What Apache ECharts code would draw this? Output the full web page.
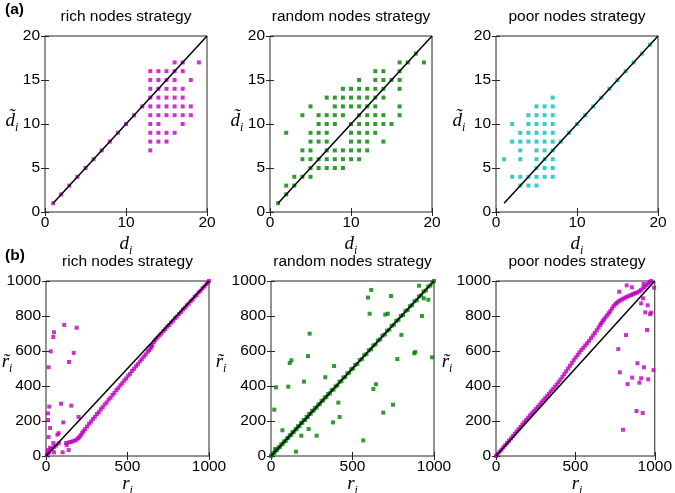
<!DOCTYPE html>
<html><head><meta charset="utf-8">
<script src="https://cdn.jsdelivr.net/npm/echarts@6/dist/echarts.min.js"></script>
<style>html,body{margin:0;padding:0;background:#fff}#c{width:675px;height:493px}</style>
</head><body><div id="c"></div>
<script>
// ---------- data ----------
const panelTitles = ['rich nodes strategy', 'random nodes strategy', 'poor nodes strategy'];
const degXTicks = [0, 10, 20];
const degYTicks = [0, 5, 10, 15, 20];
const rankXTicks = [0, 500, 1000];
const rankYTicks = [0, 200, 400, 600, 800, 1000];

// (a) degree before (d_i) vs after (d~_i)
const richDeg = [
  [1,1],[2,2],[3,3],[4,4],[5,5],[6,6],[7,7],[8,8],[9,9],[10,10],[11,11],[12,12],
  [16,17],[17,17],[19,17],
  [13,16],[14,16],[15,16],[16,16],[17,16],
  [13,15],[14,15],[15,15],[16,15],[18,15],
  [13,14],[14,14],[15,14],[16,14],[17,14],
  [13,13],[14,13],[15,13],[16,13],[17,13],
  [13,12],[14,12],[15,12],[16,12],[17,12],[18,12],
  [13,11],[14,11],[15,11],[16,11],[17,11],[18,11],
  [13,10],[14,10],[17,10],
  [13,9],[14,9],[15,9],[16,9],
  [13,8],[14,8],[15,8],
  [13,7]
];
const randomDeg = [
  [1,1],[2,2],[2,3],[3,3],[3,4],[4,4],[5,4],
  [5,5],[6,5],[7,5],[8,5],[9,5],
  [4,6],[5,6],[6,6],[7,6],[8,6],[9,6],[10,6],[11,6],
  [4,7],[5,7],[7,7],[8,7],[9,7],[10,7],[11,7],[12,7],
  [5,8],[6,8],[7,8],[10,8],[11,8],[12,8],[14,8],
  [2,9],[5,9],[6,9],[7,9],[10,9],[11,9],[12,9],[13,9],
  [6,10],[7,10],[8,10],[10,10],[11,10],[12,10],[13,10],[14,10],[15,10],
  [4,11],[6,11],[7,11],[8,11],[9,11],[11,11],[12,11],[13,11],[14,11],[16,11],
  [5,12],[8,12],[9,12],[10,12],[11,12],[12,12],[13,12],[16,12],
  [7,13],[8,13],[9,13],[10,13],[11,13],[12,13],[13,13],[14,13],
  [9,14],[10,14],[11,14],[12,14],[13,14],[14,14],[16,14],
  [11,15],[13,15],[14,15],[15,15],[16,15],
  [13,16],[14,16],[16,16],
  [16,17],[17,17],[19,17],
  [18,18]
];
const poorDeg = [
  [7,13],
  [5,12],[6,12],[7,12],
  [4,11],[5,11],[6,11],[7,11],
  [2,10],[4,10],[5,10],[6,10],[7,10],
  [3,9],[4,9],[5,9],[6,9],[7,9],
  [2,8],[3,8],[4,8],[5,8],[6,8],[7,8],
  [3,7],[5,7],[6,7],[7,7],
  [1,6],[3,6],[5,6],[6,6],[7,6],
  [5,5],[6,5],[7,5],
  [2,4],[3,4],[4,4],[5,4],[6,4],[7,4],
  [3,3],[4,3],[5,3],
  [8,8],[9,9],[10,10],[11,11],[12,12],[13,13],[14,14],[15,15],[16,16],[17,17],[18,18],[19,19]
];
const degDiagonal = [[1,1],[20,20]];

// (b) rank before (r_i) vs after (r~_i)
const richRank = [
  [5,4],[20,22],[35,38],[50,52],[62,60],[78,72],
  [112,749],[188,733],[49,707],[45,680],[29,598],[170,589],[141,537],[16,507],
  [20,282],[92,299],[155,288],[12,244],[12,206],[200,223],[106,192],[25,160],
  [78,130],[70,122],[16,108],[45,74],[123,74],[127,62],[25,47],[33,40],[139,34],
  [102,21],[49,21],[12,35],[12,17],
  [140,78],[152,80],[164,84],[176,88],[188,94],[198,102],[206,110],[214,120],[222,132],
  [230,142],[240,154],[252,168],[264,184],[276,197],[288,212],[300,224],[312,240],
  [324,251],[336,267],[348,279],[360,294],[372,306],[384,322],[396,333],[408,349],
  [420,361],[432,377],[444,388],[456,404],[468,416],[480,431],[492,443],[504,459],
  [516,470],[528,486],[540,498],[552,513],[564,525],[576,541],[588,553],[600,568],
  [612,580],[624,596],[634,605],[642,617],[648,626],[652,634],
  [662,652],[672,664],[684,676],[696,689],[708,700],[720,714],[732,725],[744,739],
  [756,749],[768,763],[780,773],[792,788],[804,798],[816,812],[828,822],[840,837],
  [852,847],[864,861],[876,871],[888,885],[900,895],[912,910],[924,920],[936,934],
  [948,944],[960,958],[972,969],[984,982],[994,992],[1000,1000]
];
const randomRank = [
  [0,0],[8,6],[14,16],[22,20],[30,33],[38,36],[46,48],[55,52],[63,66],[72,70],
  [80,83],[90,86],[98,101],[106,104],[115,118],[124,121],[132,136],[140,138],
  [150,152],[158,156],[166,170],[175,172],[184,188],[192,190],[200,205],[210,206],
  [218,224],[226,222],[234,240],[244,242],[252,258],[262,260],[270,274],[280,278],
  [290,294],[300,298],[310,314],[320,318],[330,334],[340,338],[350,355],[362,358],
  [372,376],[384,380],[396,398],[408,404],[420,424],[432,428],[444,448],[456,452],
  [468,472],[480,476],[492,496],[504,500],[516,520],[530,526],[544,548],[558,554],
  [572,576],[586,582],[600,604],[614,610],[628,632],[642,638],[656,660],[670,666],
  [684,688],[698,694],[712,716],[726,722],[740,744],[754,750],[768,772],[782,778],
  [796,800],[810,806],[824,828],[838,834],[852,856],[866,862],[880,884],[894,890],
  [908,912],[922,918],[936,940],[950,946],[964,968],[978,974],[990,992],[1000,1000],
  [615,949],[595,905],[908,973],[736,914],[937,901],[965,893],[605,813],[701,808],
  [716,813],[926,800],[237,699],[800,692],[879,587],[885,594],[988,564],[227,571],
  [115,531],[125,547],[775,554],[387,514],[333,450],[202,425],[31,392],[106,396],
  [644,410],[628,383],[413,305],[748,293],[20,265],[689,248],[421,223],[380,192],
  [231,154],[70,147],[566,89],[186,116],[280,116],[153,25],[25,40]
];
const poorRank = [
  [0,0],[10,10],[22,24],[34,36],[46,50],[58,62],[70,75],[82,88],[94,100],[106,114],
  [118,127],[130,140],[142,153],[154,166],[166,180],[178,193],[190,206],[202,219],
  [214,232],[226,244],[238,256],[250,268],[262,280],[274,293],[286,306],[298,318],
  [310,331],[322,343],[334,356],[346,369],[358,382],[370,395],[382,408],[394,422],
  [406,436],[418,452],[430,468],[442,484],[454,500],[466,516],[478,532],[490,548],
  [502,563],[514,578],[526,592],[538,606],[550,618],[562,632],[574,644],[586,658],
  [598,673],[610,688],[622,703],[634,718],[646,734],[656,748],[664,760],[672,770],
  [680,780],[690,792],[700,804],[710,816],[720,828],[730,842],[740,856],[750,866],
  [760,874],[770,882],[780,888],[792,894],[804,900],[816,906],[828,911],[840,916],
  [852,920],[864,926],[876,930],[888,934],[900,940],[912,948],[924,958],[936,966],
  [948,976],[958,986],[968,994],[976,1000],
  [823,975],[856,964],[930,983],[996,962],[776,939],[926,901],[914,872],[955,861],
  [940,821],[971,810],[977,819],[951,720],[819,691],[770,611],[891,530],[932,507],
  [992,491],[780,478],[858,448],[914,444],[959,438],[829,411],[903,419],[885,257],
  [924,246],[800,150]
];
const rankDiagonal = [[0,0],[1000,1000]];

// ---------- styling ----------
const MAG = '#bf00bf', GRN = '#008000', CYN = '#00bfbf';
const AX = '#262626';
const SANS = 'Liberation Sans, Arial, sans-serif';
const SERIF = 'Liberation Serif, Times New Roman, serif';

const grids = [
  {left:45, top:36, width:162, height:176},
  {left:270, top:36, width:162, height:176},
  {left:496, top:36, width:162, height:176},
  {left:46, top:281, width:163, height:175},
  {left:271, top:281, width:163, height:175},
  {left:496, top:281, width:162, height:175}
];
const panelData = [richDeg, randomDeg, poorDeg, richRank, randomRank, poorRank];
const panelColor = [MAG, GRN, CYN, MAG, GRN, MAG];

function axisBase(ticks, showLabel, pos, isX) {
  return {
    type: 'value', min: ticks[0], max: ticks[ticks.length-1], interval: ticks[1]-ticks[0],
    position: pos,
    axisLine: {show: false},
    axisTick: {show: true, inside: true, length: 4, lineStyle: {color: AX, width: 1}},
    splitLine: {show: false},
    axisLabel: {show: showLabel, color: '#000', fontFamily: SANS, fontSize: 15.5,
      margin: isX ? 3 : 5, hideOverlap: false, showMinLabel: true, showMaxLabel: true,
      formatter: v => String(v)}
  };
}

const xAxis = [], yAxis = [], series = [];
for (let i = 0; i < 6; i++) {
  const isDeg = i < 3;
  const xt = isDeg ? degXTicks : rankXTicks;
  const yt = isDeg ? degYTicks : rankYTicks;
  xAxis.push(Object.assign(axisBase(xt, true, 'bottom', true), {gridIndex: i}));
  yAxis.push(Object.assign(axisBase(yt, true, 'left', false), {gridIndex: i}));
}
for (let i = 0; i < 6; i++) {
  const isDeg = i < 3;
  const xt = isDeg ? degXTicks : rankXTicks;
  const yt = isDeg ? degYTicks : rankYTicks;
  xAxis.push(Object.assign(axisBase(xt, false, 'top', true), {gridIndex: i}));
  yAxis.push(Object.assign(axisBase(yt, false, 'right', false), {gridIndex: i}));
}
for (let i = 0; i < 6; i++) {
  series.push({
    type: 'scatter', xAxisIndex: i, yAxisIndex: i, data: panelData[i],
    symbol: 'rect', symbolSize: 4, itemStyle: {color: panelColor[i]}, z: 2,
    silent: true, animation: false
  });
  series.push({
    type: 'line', xAxisIndex: i, yAxisIndex: i, data: i < 3 ? degDiagonal : rankDiagonal,
    symbol: 'none', lineStyle: {color: '#000', width: 1.5}, z: 3, silent: true, animation: false
  });
}

const rich = {
  v: {fontFamily: SERIF, fontStyle: 'italic', fontSize: 19, lineHeight: 26, fill: '#000'},
  s: {fontFamily: SERIF, fontStyle: 'italic', fontSize: 12, lineHeight: 12, verticalAlign: 'bottom', fill: '#000'}
};
function mathText(x, y, base, sub) {
  return {type: 'text', x: x, y: y, silent: true,
    style: {text: '{v|' + base + '}{s|' + sub + '}', rich: rich, align: 'center', verticalAlign: 'middle'}};
}
const graphics = [];
for (let i = 0; i < 6; i++) {
  const g = grids[i];
  const cx = g.left + g.width / 2;
  graphics.push({type: 'text', x: cx, y: g.top - 19, silent: true,
    style: {text: panelTitles[i % 3], font: '15.5px ' + SANS, fill: '#000', align: 'center', verticalAlign: 'middle'}});
}
// axis names
const aNameY = [12, 237, 459];
const bNameY = [7, 221, 447];
for (let i = 0; i < 3; i++) {
  const g = grids[i];
  graphics.push(mathText(g.left + g.width / 2, 244, 'd', 'i'));
  graphics.push(mathText(aNameY[i], 121, 'd\u0303', 'i'));
  const h = grids[i + 3];
  graphics.push(mathText(h.left + h.width / 2, 484, 'r', 'i'));
  graphics.push(mathText(bNameY[i], 362, 'r\u0303', 'i'));
}
graphics.push({type: 'text', x: 5, y: 10, silent: true,
  style: {text: '(a)', font: 'bold 15.5px ' + SANS, fill: '#000', align: 'left', verticalAlign: 'middle'}});
graphics.push({type: 'text', x: 5, y: 256, silent: true,
  style: {text: '(b)', font: 'bold 15.5px ' + SANS, fill: '#000', align: 'left', verticalAlign: 'middle'}});

const chart = echarts.init(document.getElementById('c'), null, {renderer: 'canvas'});
chart.setOption({
  animation: false,
  backgroundColor: '#fff',
  grid: grids.map(g => Object.assign({show: true, borderColor: AX, borderWidth: 1, backgroundColor: 'transparent', containLabel: false}, g)),
  xAxis: xAxis,
  yAxis: yAxis,
  series: series,
  graphic: graphics
});
</script></body></html>
